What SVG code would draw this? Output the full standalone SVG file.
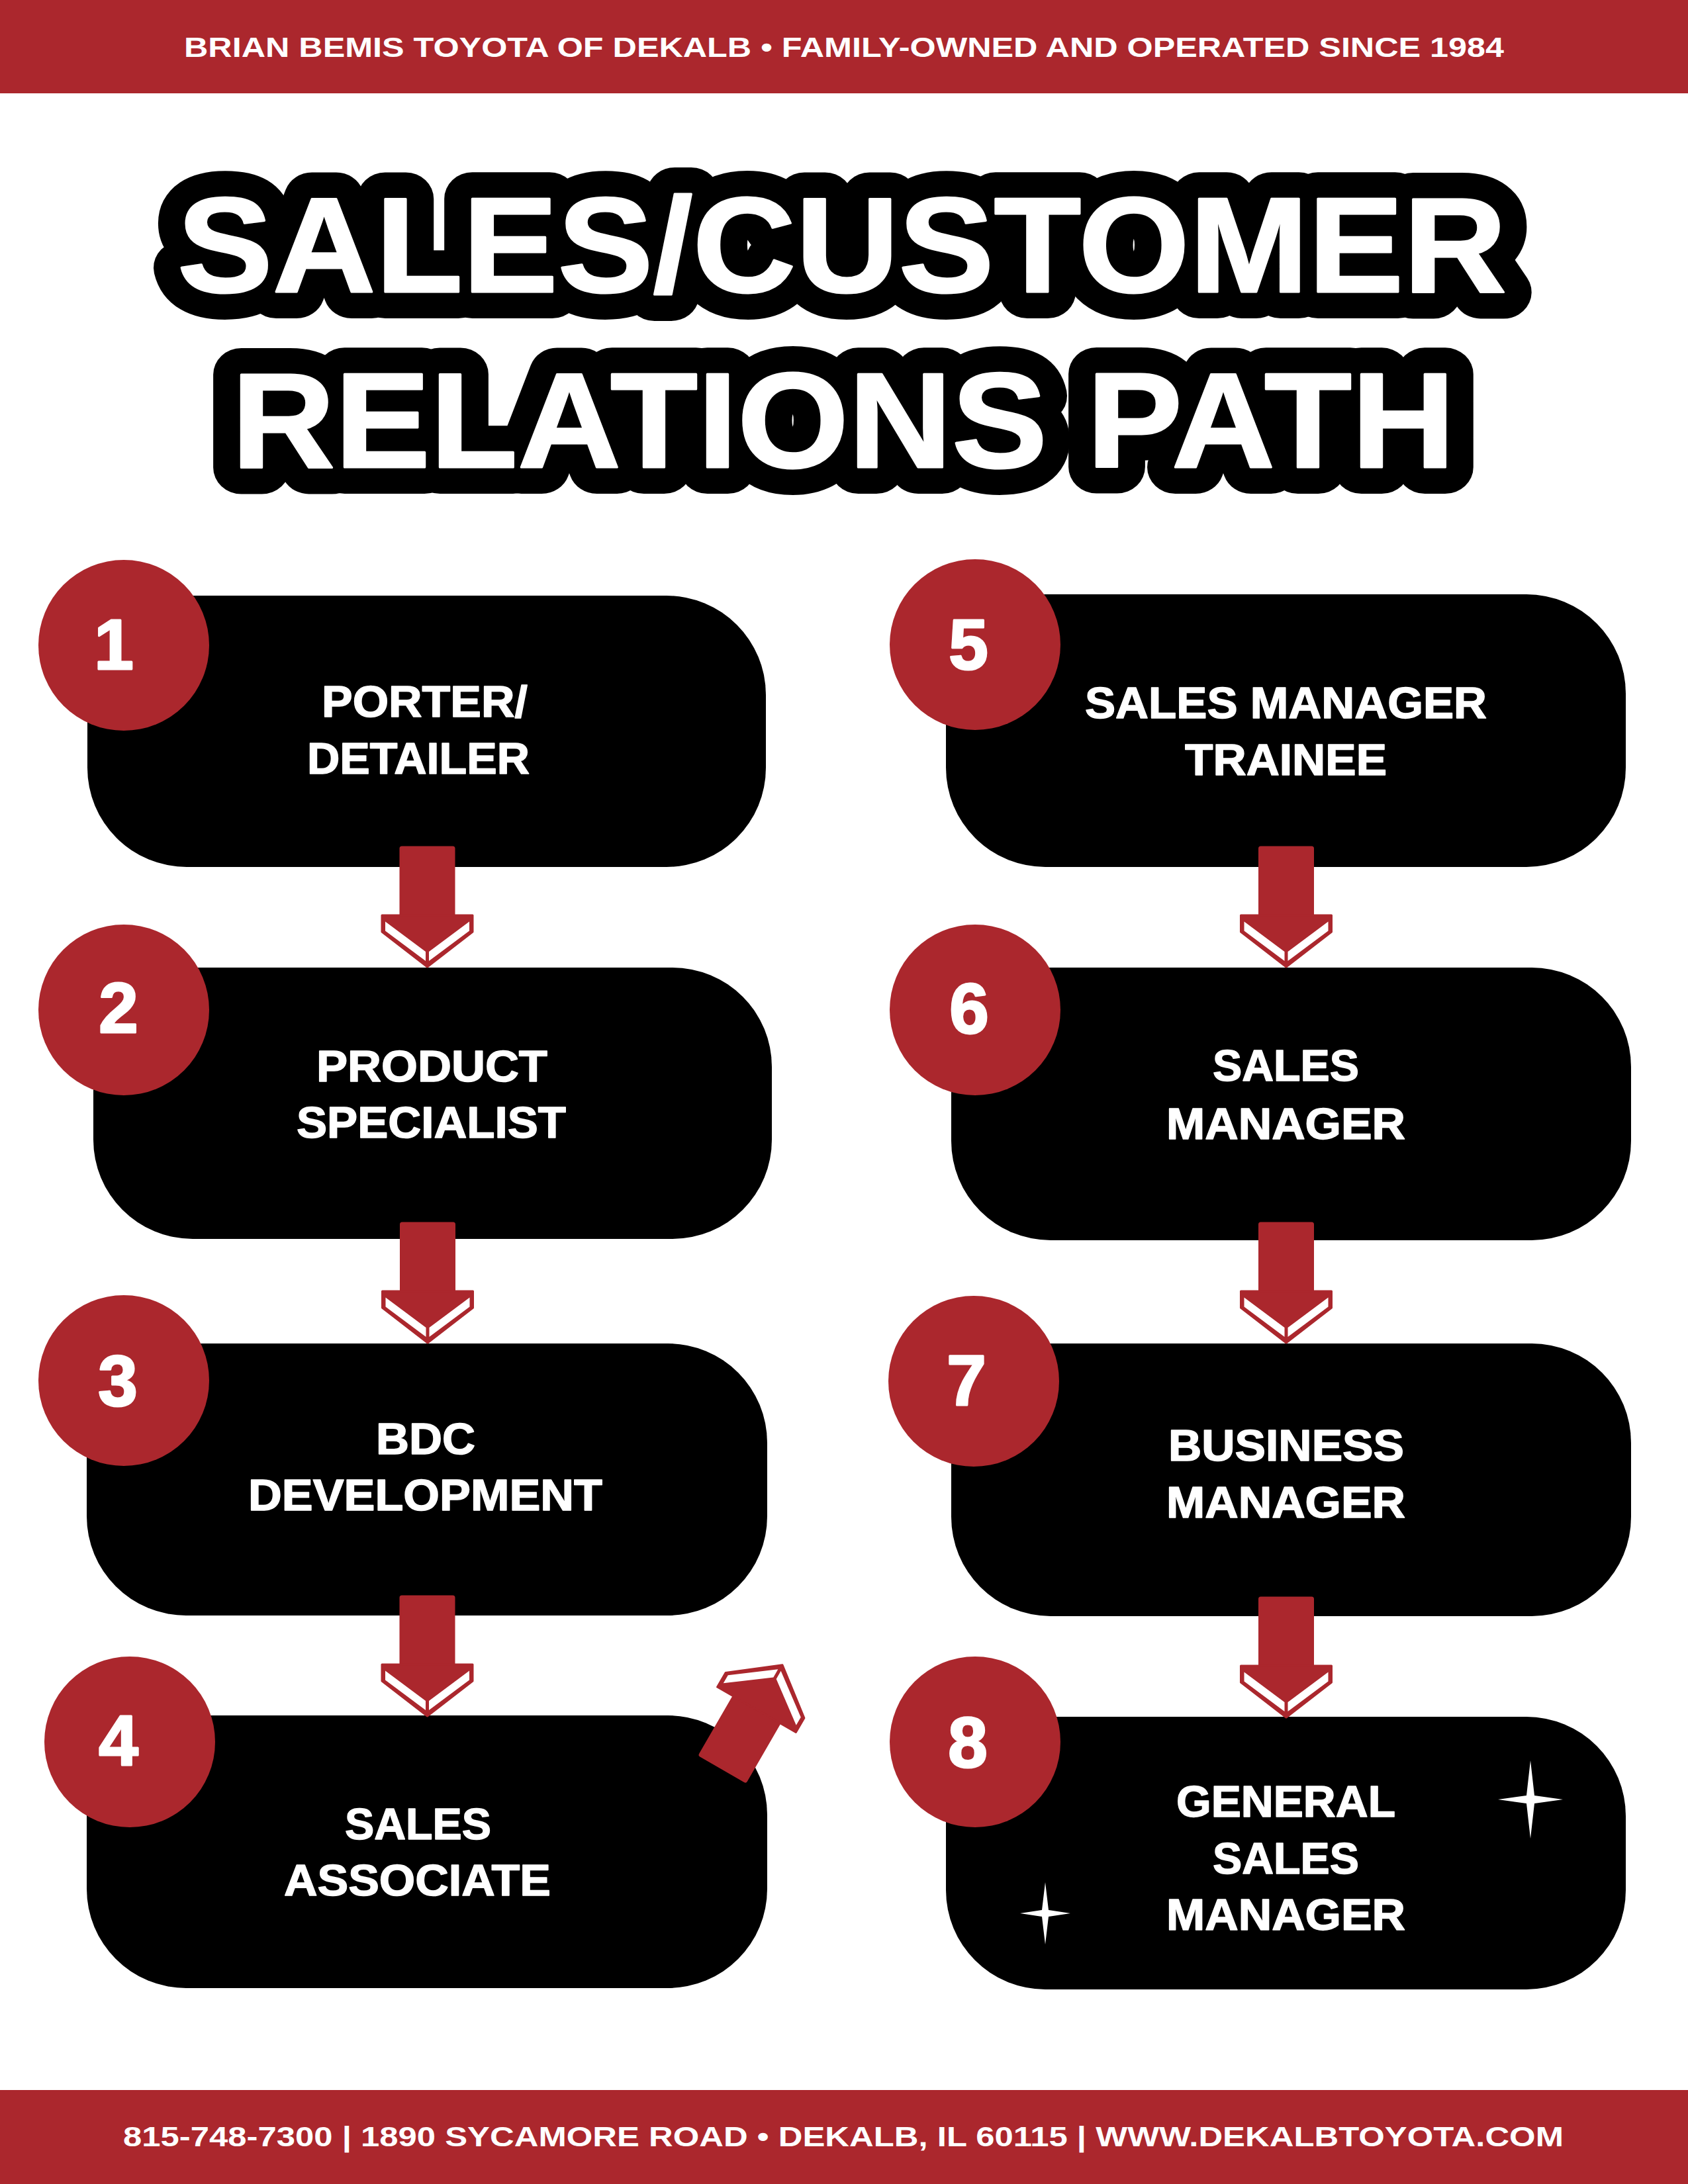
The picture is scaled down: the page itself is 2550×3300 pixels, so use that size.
<svg xmlns="http://www.w3.org/2000/svg" xmlns:xlink="http://www.w3.org/1999/xlink" width="2550" height="3300" viewBox="0 0 2550 3300">
<style>
.band{fill:#AB272D}
.bandtxt{font-family:"Liberation Sans",Arial,sans-serif;font-weight:700;fill:#fff}
.ttl-bg{font-family:"Liberation Sans",Arial,sans-serif;font-weight:700;font-size:204px;fill:#000;stroke:#000;stroke-width:80;stroke-linejoin:round}
.ttl{font-family:"Liberation Sans",Arial,sans-serif;font-weight:700;font-size:204px;fill:#fff;stroke:#fff;stroke-width:3;stroke-linejoin:round}
.box{fill:#000}
.badge{fill:#AB272D}
.num{font-family:"Liberation Sans",Arial,sans-serif;font-weight:700;font-size:107px;fill:#fff;stroke:#fff;stroke-width:3;stroke-linejoin:round;text-anchor:middle}
.lbl{font-family:"Liberation Sans",Arial,sans-serif;font-weight:700;font-size:67px;fill:#fff;stroke:#fff;stroke-width:1.5;stroke-linejoin:round}
.star{fill:#fff}
.ared{fill:#AB272D;stroke:#AB272D;stroke-width:3;stroke-linejoin:round}
.awht{fill:#fff}
</style>
<defs>
<g id="arrowDown">
<rect class="ared" x="-40.5" y="0" width="81" height="106" rx="2"/>
<polygon class="ared" points="-68.5,103 68.5,103 68.5,128 0,181 -68.5,128"/>
<polygon class="awht" points="-63.5,112.5 -2.5,158 -2.5,172 -63.5,126.5"/>
<polygon class="awht" points="63.5,112.5 2.5,158 2.5,172 63.5,126.5"/>
</g>
</defs>
<rect width="2550" height="3300" fill="#fff"/>
<g id="header">
<rect class="band" x="0" y="0" width="2550" height="141"/>
<text class="bandtxt" x="278" y="86" font-size="42" textLength="1994" lengthAdjust="spacingAndGlyphs">BRIAN BEMIS TOYOTA OF DEKALB • FAMILY-OWNED AND OPERATED SINCE 1984</text>
</g>
<g id="title">
<text class="ttl-bg" x="268" y="441" textLength="2008" lengthAdjust="spacingAndGlyphs">SALES/CUSTOMER</text>
<text class="ttl-bg" x="350" y="706" textLength="1848" lengthAdjust="spacingAndGlyphs">RELATIONS PATH</text>
<text class="ttl" x="268" y="441" textLength="2008" lengthAdjust="spacingAndGlyphs">SALES/CUSTOMER</text>
<text class="ttl" x="350" y="706" textLength="1848" lengthAdjust="spacingAndGlyphs">RELATIONS PATH</text>
</g>
<g id="nodes">
<g id="node1">
<rect class="box" x="132" y="900" width="1025" height="410" rx="150"/>
<circle class="badge" cx="187" cy="975" r="129"/>
<text class="num" x="172" y="1011">1</text>
<text class="lbl" x="486" y="1083" textLength="311" lengthAdjust="spacingAndGlyphs">PORTER/</text>
<text class="lbl" x="464" y="1169" textLength="336" lengthAdjust="spacingAndGlyphs">DETAILER</text>
</g>
<g id="node2">
<rect class="box" x="141" y="1462" width="1025" height="410" rx="150"/>
<circle class="badge" cx="187" cy="1526" r="129"/>
<text class="num" x="179" y="1560">2</text>
<text class="lbl" x="478" y="1634" textLength="349" lengthAdjust="spacingAndGlyphs">PRODUCT</text>
<text class="lbl" x="448" y="1719" textLength="407" lengthAdjust="spacingAndGlyphs">SPECIALIST</text>
</g>
<g id="node3">
<rect class="box" x="131" y="2030" width="1028" height="411" rx="150"/>
<circle class="badge" cx="187" cy="2086" r="129"/>
<text class="num" x="178" y="2124">3</text>
<text class="lbl" x="568" y="2197" textLength="150" lengthAdjust="spacingAndGlyphs">BDC</text>
<text class="lbl" x="375" y="2282" textLength="535" lengthAdjust="spacingAndGlyphs">DEVELOPMENT</text>
</g>
<g id="node4">
<rect class="box" x="131" y="2592" width="1028" height="412" rx="150"/>
<circle class="badge" cx="196" cy="2632" r="129"/>
<text class="num" x="179" y="2667">4</text>
<text class="lbl" x="521" y="2779" textLength="221" lengthAdjust="spacingAndGlyphs">SALES</text>
<text class="lbl" x="429" y="2864" textLength="403" lengthAdjust="spacingAndGlyphs">ASSOCIATE</text>
</g>
<g id="node5">
<rect class="box" x="1429" y="898" width="1027" height="412" rx="150"/>
<circle class="badge" cx="1473" cy="974" r="129"/>
<text class="num" x="1463" y="1011">5</text>
<text class="lbl" x="1639" y="1085" textLength="607" lengthAdjust="spacingAndGlyphs">SALES MANAGER</text>
<text class="lbl" x="1790" y="1171" textLength="305" lengthAdjust="spacingAndGlyphs">TRAINEE</text>
</g>
<g id="node6">
<rect class="box" x="1437" y="1462" width="1027" height="412" rx="150"/>
<circle class="badge" cx="1473" cy="1526" r="129"/>
<text class="num" x="1464" y="1561">6</text>
<text class="lbl" x="1832" y="1633" textLength="221" lengthAdjust="spacingAndGlyphs">SALES</text>
<text class="lbl" x="1762" y="1721" textLength="361" lengthAdjust="spacingAndGlyphs">MANAGER</text>
</g>
<g id="node7">
<rect class="box" x="1437" y="2030" width="1027" height="412" rx="150"/>
<circle class="badge" cx="1471" cy="2087" r="129"/>
<text class="num" x="1460" y="2123">7</text>
<text class="lbl" x="1765" y="2207" textLength="356" lengthAdjust="spacingAndGlyphs">BUSINESS</text>
<text class="lbl" x="1762" y="2293" textLength="361" lengthAdjust="spacingAndGlyphs">MANAGER</text>
</g>
<g id="node8">
<rect class="box" x="1429" y="2594" width="1027" height="412" rx="150"/>
<circle class="badge" cx="1473" cy="2632" r="129"/>
<text class="num" x="1462" y="2670">8</text>
<text class="lbl" x="1777" y="2745" textLength="331" lengthAdjust="spacingAndGlyphs">GENERAL</text>
<text class="lbl" x="1832" y="2831" textLength="221" lengthAdjust="spacingAndGlyphs">SALES</text>
<text class="lbl" x="1762" y="2916" textLength="361" lengthAdjust="spacingAndGlyphs">MANAGER</text>
<path class="star" d="M2312,2660 L2318,2713 L2361,2719 L2318,2725 L2312,2778 L2306,2725 L2263,2719 L2306,2713 Z"/>
<path class="star" d="M1579,2844 L1584,2886 L1617,2891 L1584,2896 L1579,2938 L1574,2896 L1541,2891 L1574,2886 Z"/>
</g>
</g>
<g id="connectors">
<use xlink:href="#arrowDown" transform="translate(645.5,1280)"/>
<use xlink:href="#arrowDown" transform="translate(646,1848)"/>
<use xlink:href="#arrowDown" transform="translate(645.5,2412)"/>
<use xlink:href="#arrowDown" transform="translate(1943,1280)"/>
<use xlink:href="#arrowDown" transform="translate(1943,1848)"/>
<use xlink:href="#arrowDown" transform="translate(1943,2414)"/>
<use xlink:href="#arrowDown" transform="translate(1091.5,2672.5) rotate(210)"/>
</g>
<g id="footer">
<rect class="band" x="0" y="3158" width="2550" height="142"/>
<text class="bandtxt" x="186" y="3243" font-size="43" textLength="2176" lengthAdjust="spacingAndGlyphs">815-748-7300 | 1890 SYCAMORE ROAD • DEKALB, IL 60115 | WWW.DEKALBTOYOTA.COM</text>
</g>
</svg>
